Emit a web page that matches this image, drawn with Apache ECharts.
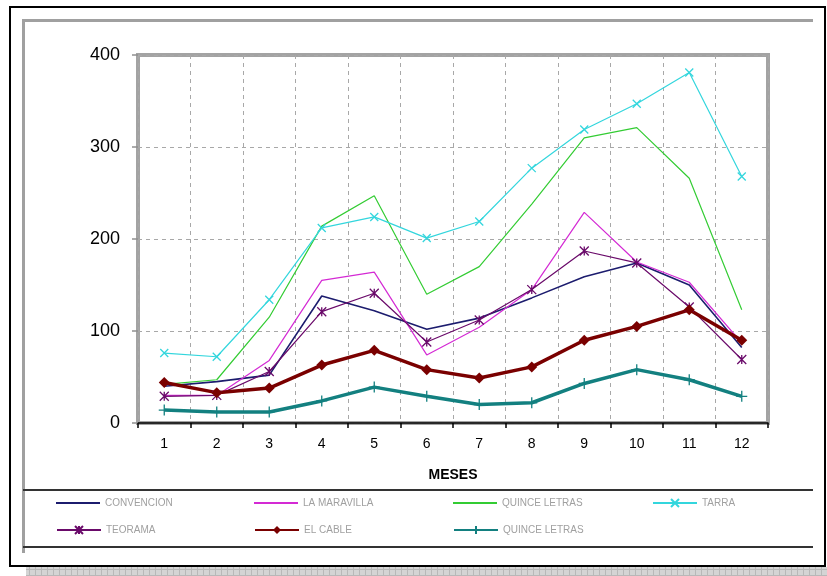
<!DOCTYPE html>
<html>
<head>
<meta charset="utf-8">
<script src="https://cdn.jsdelivr.net/npm/echarts@6/dist/echarts.min.js"></script>
<style>
  html, body { margin: 0; padding: 0; background: #fff; }
  #chart { width: 827px; height: 576px; }
</style>
</head>
<body>
<div id="chart"></div>
<script>
// Monthly values per station
const months = ['1', '2', '3', '4', '5', '6', '7', '8', '9', '10', '11', '12'];
const yTicks = [0, 100, 200, 300, 400];

const convencion   = [40, 45, 52, 138, 122, 102, 114, 136, 159, 174, 150, 82];
const laMaravilla  = [30, 30, 68, 155, 164, 74, 104, 145, 229, 175, 153, 87];
const quinceLetras = [42, 47, 115, 214, 247, 140, 170, 238, 310, 321, 266, 123];
const tarra        = [76, 72, 134, 212, 224, 201, 219, 277, 319, 347, 381, 268];
const teorama      = [29, 30, 56, 121, 141, 88, 112, 145, 187, 174, 126, 69];
const elCable      = [44, 33, 38, 63, 79, 58, 49, 61, 90, 105, 123, 90];
const quinceLetras2 = [14, 12, 12, 24, 39, 29, 20, 22, 43, 58, 47, 29];

const CROSS = 'path://M0,0L10,10M10,0L0,10';
const PLUS = 'path://M5,0L5,10M0,5L10,5';
const STAR = 'path://M0,0L10,10M10,0L0,10M5,0L5,10';

function lineSeries(name, data, color, width, symbol, size, strokeMarker) {
  return {
    name: name,
    type: 'line',
    data: data,
    symbol: symbol,
    symbolSize: size,
    showSymbol: symbol !== 'none',
    lineStyle: { color: color, width: width },
    itemStyle: strokeMarker
      ? { color: color, borderColor: color, borderWidth: 1.3 }
      : { color: color },
    emphasis: { disabled: true },
    animation: false
  };
}

const series = [
  lineSeries('CONVENCION', convencion, '#1c1c6e', 1.6, 'none', 0, false),
  lineSeries('LA MARAVILLA', laMaravilla, '#d42ad4', 1.2, 'none', 0, false),
  lineSeries('QUINCE LETRAS', quinceLetras, '#33cc33', 1.2, 'none', 0, false),
  lineSeries('TARRA', tarra, '#33d6dd', 1.2, CROSS, 8, true),
  lineSeries('TEORAMA', teorama, '#6a0a6a', 1.2, STAR, 9, true),
  lineSeries('EL CABLE', elCable, '#7a0000', 3.5, 'diamond', 11, false),
  lineSeries('QUINCE LETRAS ', quinceLetras2, '#138080', 3.5, PLUS, 11, true)
];

// Legend laid out as a 4-column table, one legend block per entry
const legendCols = [56, 254, 453, 652];
const legendRows = [498, 525];
const legendLayout = [
  [0, 0], [1, 0], [2, 0], [3, 0],
  [0, 1], [1, 1], [2, 1]
];
const legends = series.map(function (s, i) {
  const plain = s.symbol === 'none';
  return {
    data: plain ? [{ name: s.name, icon: 'rect' }] : [s.name],
    left: legendCols[legendLayout[i][0]],
    top: legendRows[legendLayout[i][1]],
    padding: 0,
    itemWidth: 44,
    itemHeight: plain ? 2 : 10,
    itemGap: 0,
    selectedMode: false,
    textStyle: { color: '#a0a0a0', fontSize: 10, fontFamily: 'Liberation Sans, Arial, sans-serif' }
  };
});

// Checkered shadow pattern under the frame
const patCanvas = document.createElement('canvas');
patCanvas.width = 6; patCanvas.height = 6;
(function () {
  const c = patCanvas.getContext('2d');
  c.fillStyle = '#d4d4d4'; c.fillRect(0, 0, 6, 6);
  c.fillStyle = '#b8b8b8'; c.fillRect(5, 0, 1, 6); c.fillRect(0, 5, 6, 1);
})();

const chart = echarts.init(document.getElementById('chart'), null, { renderer: 'canvas' });
chart.setOption({
  backgroundColor: '#ffffff',
  animation: false,
  textStyle: { fontFamily: 'Liberation Sans, Arial, sans-serif' },
  grid: {
    left: 138, top: 55, width: 630, height: 368,
    show: true, borderColor: '#a3a3a3', borderWidth: 4, backgroundColor: 'transparent'
  },
  legend: legends,
  xAxis: {
    type: 'category',
    data: months,
    boundaryGap: true,
    axisLine: { show: true, lineStyle: { color: '#000', width: 1.5 } },
    axisTick: { show: true, length: 5, lineStyle: { color: '#000', width: 1.5 } },
    axisLabel: { color: '#000', fontSize: 14, margin: 14 },
    splitLine: { show: true, lineStyle: { color: '#a8a8a8', type: [4, 4], width: 1 } },
    name: 'MESES',
    nameLocation: 'middle',
    nameGap: 45,
    nameTextStyle: { color: '#000', fontSize: 14, fontWeight: 'bold' }
  },
  yAxis: {
    type: 'value',
    min: yTicks[0],
    max: yTicks[yTicks.length - 1],
    interval: yTicks[1] - yTicks[0],
    axisLine: { show: false },
    axisTick: { show: true, length: 6, lineStyle: { color: '#909090', width: 1.5 } },
    axisLabel: { color: '#000', fontSize: 18, margin: 18 },
    splitLine: { show: true, lineStyle: { color: '#a8a8a8', type: [4, 4], width: 1 } }
  },
  graphic: [
    { type: 'rect', z: -10, shape: { x: 26, y: 567, width: 801, height: 9 },
      style: { fill: { image: patCanvas, repeat: 'repeat' } } },
    { type: 'rect', z: -5, shape: { x: 10, y: 7, width: 815, height: 559 },
      style: { fill: '#fff', stroke: '#000', lineWidth: 2 } },
    { type: 'line', z: -4, shape: { x1: 23.5, y1: 19, x2: 23.5, y2: 553 },
      style: { stroke: '#a0a0a0', lineWidth: 3 } },
    { type: 'line', z: -4, shape: { x1: 22, y1: 20.5, x2: 813, y2: 20.5 },
      style: { stroke: '#a0a0a0', lineWidth: 3 } },
    { type: 'line', z: -4, shape: { x1: 23, y1: 490, x2: 813, y2: 490 },
      style: { stroke: '#333', lineWidth: 2 } },
    { type: 'line', z: -4, shape: { x1: 23, y1: 547, x2: 813, y2: 547 },
      style: { stroke: '#333', lineWidth: 2 } }
  ],
  series: series
});
</script>
</body>
</html>
